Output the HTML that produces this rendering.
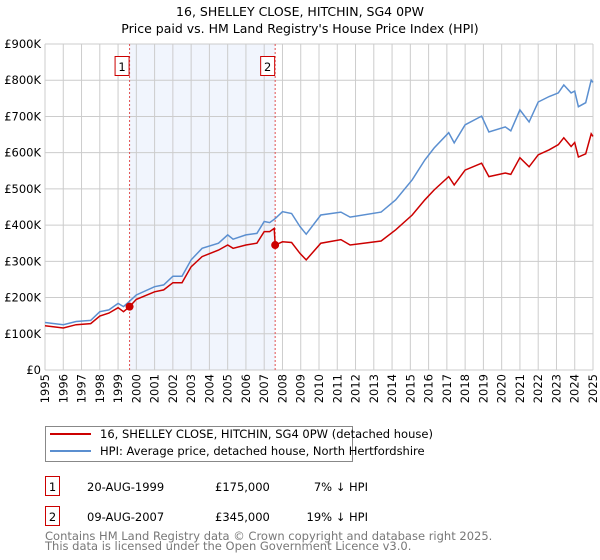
<!DOCTYPE html>
<html><head><meta charset="utf-8"><style>
body{margin:0;width:600px;height:560px;background:#fff;font-family:"DejaVu Sans","Liberation Sans",sans-serif;}
svg{display:block}
</style></head><body>
<svg id="chart" width="600" height="560" xmlns="http://www.w3.org/2000/svg" font-family="DejaVu Sans, Liberation Sans, sans-serif">
<text x="300" y="16" font-size="12.5" text-anchor="middle">16, SHELLEY CLOSE, HITCHIN, SG4 0PW</text>
<text x="300" y="33" font-size="12.5" text-anchor="middle">Price paid vs. HM Land Registry's House Price Index (HPI)</text>
<g id="plot"></g>
<g>
<rect x="45.5" y="426.5" width="307" height="35" fill="#fff" stroke="#888"/>
<line x1="50" y1="434" x2="91" y2="434" stroke="#cc0000" stroke-width="2"/>
<text x="100" y="438" font-size="11.5">16, SHELLEY CLOSE, HITCHIN, SG4 0PW (detached house)</text>
<line x1="50" y1="451" x2="91" y2="451" stroke="#5b8fd0" stroke-width="2"/>
<text x="100" y="455" font-size="11.5">HPI: Average price, detached house, North Hertfordshire</text>
</g>
<g font-size="11.5">
<rect x="45.5" y="476.5" width="14" height="19" fill="#fff" stroke="#cc0000"/>
<text x="52.5" y="491" text-anchor="middle">1</text>
<text x="87" y="491">20-AUG-1999</text>
<text x="215" y="491">£175,000</text>
<text x="368" y="491" text-anchor="end">7% ↓ HPI</text>
<rect x="45.5" y="506.5" width="14" height="19" fill="#fff" stroke="#cc0000"/>
<text x="52.5" y="521" text-anchor="middle">2</text>
<text x="87" y="521">09-AUG-2007</text>
<text x="215" y="521">£345,000</text>
<text x="368" y="521" text-anchor="end">19% ↓ HPI</text>
</g>
<text x="45" y="540" font-size="11.5" fill="#777">Contains HM Land Registry data © Crown copyright and database right 2025.</text>
<text x="45" y="550" font-size="11.5" fill="#777">This data is licensed under the Open Government Licence v3.0.</text>
</svg>
<script>
const yTicks=[0,100,200,300,400,500,600,700,800,900];
const yTickLabels=["£0","£100K","£200K","£300K","£400K","£500K","£600K","£700K","£800K","£900K"];
const xYears=[1995,1996,1997,1998,1999,2000,2001,2002,2003,2004,2005,2006,2007,2008,2009,2010,2011,2012,2013,2014,2015,2016,2017,2018,2019,2020,2021,2022,2023,2024,2025];
const hpiDates=[1995,1996,1996.7,1997.5,1998,1998.5,1999,1999.3,1999.63,2000,2001,2001.5,2002,2002.5,2003,2003.6,2004.5,2005,2005.3,2006,2006.6,2007,2007.3,2007.6,2008,2008.5,2008.96,2009.3,2010.1,2011.2,2011.7,2013.4,2014.2,2015.1,2015.8,2016.3,2017.1,2017.4,2018.0,2018.9,2019.3,2020.2,2020.5,2021.0,2021.5,2022.0,2022.6,2023.1,2023.4,2023.8,2024.0,2024.2,2024.6,2024.9,2025];
const hpiValues=[131,125,134,137,161,166,184,175,190,207,230,235,259,259,304,336,350,373,361,373,377,410,407,418,437,432,396,375,428,436,422,436,470,525,580,613,655,627,677,701,657,671,660,718,685,740,755,765,787,765,770,727,738,800,794];
const priceDates=[1995,1996,1996.7,1997.5,1998,1998.5,1999,1999.3,1999.63,2000,2001,2001.5,2002,2002.5,2003,2003.6,2004.5,2005,2005.3,2006,2006.6,2007,2007.3,2007.55,2007.6,2008,2008.5,2008.96,2009.3,2010.1,2011.2,2011.7,2013.4,2014.2,2015.1,2015.8,2016.3,2017.1,2017.4,2018.0,2018.9,2019.3,2020.2,2020.5,2021.0,2021.5,2022.0,2022.6,2023.1,2023.4,2023.8,2024.0,2024.2,2024.6,2024.9,2025];
const priceValues=[122,116,125,128,149,157,172,161,175,195,216,221,241,241,285,313,331,345,336,345,350,382,382,391,345,354,352,322,304,350,360,345,356,387,428,470,497,534,511,552,571,534,544,540,586,561,594,608,622,641,617,628,588,597,652,645];
const saleDates=[1999.63,2007.6];
const saleValues=[175,345];
const saleLabels=["1","2"];

const NS="http://www.w3.org/2000/svg";
const L=45,R=593,T=44,B=370;
const xs=y=>L+(y-1995)/(2025-1995)*(R-L);
const ys=v=>B-v/900*(B-T);
const g=document.getElementById('plot');
function mk(t,a,p){const e=document.createElementNS(NS,t);for(const k in a)e.setAttribute(k,a[k]);(p||g).appendChild(e);return e;}

const shade=mk('rect',{x:xs(saleDates[0]),y:T,width:xs(saleDates[1])-xs(saleDates[0]),height:B-T,fill:'#eef3fc',opacity:'0.8'});


yTicks.forEach((v,i)=>{
 const ln=mk('line',{x1:L,x2:R,y1:ys(v),y2:ys(v),stroke:'#ccc','stroke-width':1});
 
 
 const t=mk('text',{x:L-4,y:ys(v)+4,'text-anchor':'end','font-size':'11.5'});
 t.textContent=yTickLabels[i];
 
 
});
xYears.forEach(yr=>{
 const ln=mk('line',{x1:xs(yr),x2:xs(yr),y1:T,y2:B,stroke:'#ccc','stroke-width':1});
 
 
 const t=mk('text',{x:0,y:0,'font-size':'11.5','text-anchor':'end',transform:`translate(${xs(yr)+4},${B+4}) rotate(-90)`});
 t.textContent=yr;
 
 
});
saleDates.forEach((d,i)=>{
 const ln=mk('line',{x1:xs(d),x2:xs(d),y1:T,y2:B,stroke:'#e05050','stroke-width':1,'stroke-dasharray':'2,2'});
 
 
});
function path(dates,vals,col,name){
 const p=mk('path',{d:dates.map((d,i)=>(i?'L':'M')+xs(d).toFixed(1)+','+ys(vals[i]).toFixed(1)).join(''),fill:'none',stroke:col,'stroke-width':1.5});
 
 
}
path(hpiDates,hpiValues,'#5b8fd0','hpi-line');
path(priceDates,priceValues,'#cc0000','price-paid-line');
saleDates.forEach((d,i)=>{
 const c=mk('circle',{cx:xs(d),cy:ys(saleValues[i]),r:4,fill:'#cc0000'});
 
 
 const r=mk('rect',{x:xs(d)-14.5,y:56.5,width:14,height:19,fill:'#fff',stroke:'#cc0000'});
 
 
 const t=mk('text',{x:xs(d)-7.5,y:71,'text-anchor':'middle','font-size':'11.5'});
 t.textContent=saleLabels[i];
 
 
});
</script>
</body></html>
